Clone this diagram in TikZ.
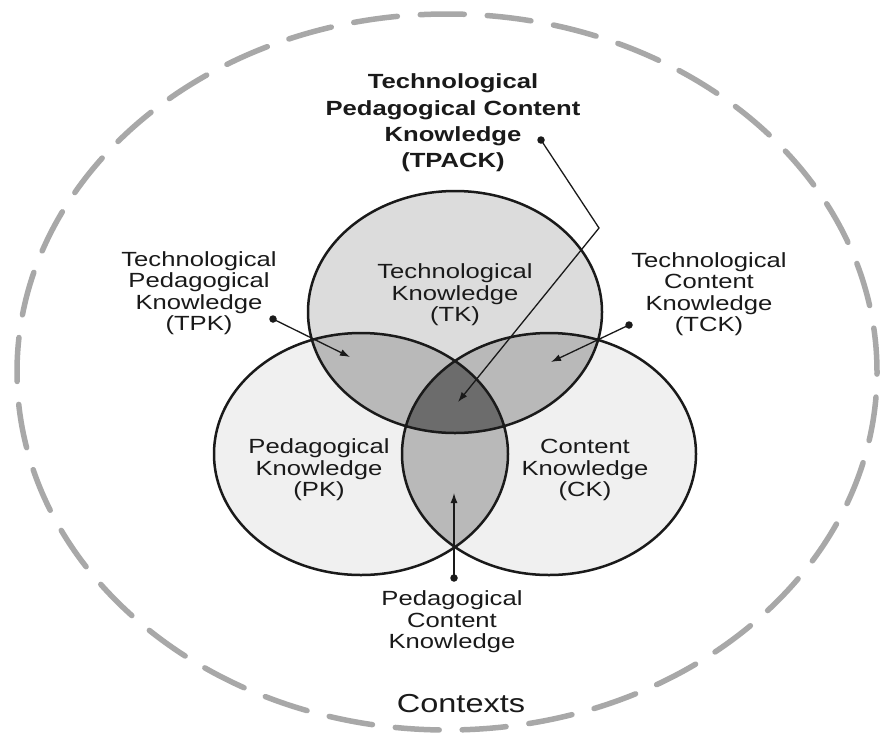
\documentclass[tikz,border=0pt]{standalone}
\usepackage{fontspec}
\setmainfont{Liberation Sans}[FakeStretch=1.25]
\usetikzlibrary{arrows.meta}
\definecolor{tkfill}{HTML}{DCDCDC}
\definecolor{pkfill}{HTML}{F0F0F0}
\definecolor{pairfill}{HTML}{B9B9B9}
\definecolor{triplefill}{HTML}{6C6C6C}
\definecolor{ctxgray}{HTML}{A8A8A8}
\definecolor{edge}{HTML}{1A1A1A}
\begin{document}
\begin{tikzpicture}[x=1pt,y=-1pt,
  lbl/.style={align=center,inner sep=0pt,text=edge,font=\fontsize{20.5}{21.5}\selectfont},
  title/.style={align=center,inner sep=0pt,text=edge,font=\bfseries\fontsize{20.5}{26.3}\selectfont},
  ctxlbl/.style={inner sep=0pt,anchor=base,text=edge,font=\fontsize{26}{30}\selectfont},
  ring/.style={draw=edge,line width=2.5pt},
  context/.style={draw=ctxgray,line width=5.5pt,line cap=round,dash pattern=on 44pt off 23pt},
  conn/.style={draw=edge,line width=1.3pt,-{Latex[length=10pt,width=7pt]}},
  dotnode/.style={circle,fill=edge,inner sep=0pt,minimum size=7.5pt}
]
\useasboundingbox (0,0) rectangle (883,734);
\fill[white] (0,0) rectangle (883,734);

% contexts
\draw[context] (447,372) ellipse [x radius=430pt, y radius=358pt];

\def\TKp{(455,312) ellipse [x radius=147pt, y radius=121pt]}
\def\PKp{(361,454) ellipse [x radius=147pt, y radius=121pt]}
\def\CKp{(549,454) ellipse [x radius=147pt, y radius=121pt]}

% base fills
\fill[pkfill] \PKp;
\fill[pkfill] \CKp;
\fill[tkfill] \TKp;
% pairwise
\begin{scope}\clip \TKp; \fill[pairfill] \PKp; \fill[pairfill] \CKp; \end{scope}
\begin{scope}\clip \PKp; \fill[pairfill] \CKp; \end{scope}
% triple
\begin{scope}\clip \TKp; \clip \PKp; \fill[triplefill] \CKp; \end{scope}
% outlines
\draw[ring] \TKp;
\draw[ring] \PKp;
\draw[ring] \CKp;

% labels
\node[title] (tpack) at (453,123) {Technological\\Pedagogical Content\\Knowledge\\(TPACK)};
\node[lbl] (tpk) at (199,293) {Technological\\Pedagogical\\Knowledge\\(TPK)};
\node[lbl] (tck) at (709,294) {Technological\\Content\\Knowledge\\(TCK)};
\node[lbl] (tk) at (455,295) {Technological\\Knowledge\\(TK)};
\node[lbl] (pk) at (319,470) {Pedagogical\\Knowledge\\(PK)};
\node[lbl] (ck) at (585,470) {Content\\Knowledge\\(CK)};
\node[lbl] (pck) at (452,622) {Pedagogical\\Content\\Knowledge};
\node[ctxlbl] (ctx) at (461,712) {Contexts};

% connectors
\node[dotnode] (d1) at (541,140) {};
\coordinate (b1) at (599,228);
\coordinate (t1) at (458,402);
\draw[conn] (d1.center) -- (b1) -- (t1);

\node[dotnode] (d2) at (273,319) {};
\coordinate (t2) at (350,357);
\draw[conn] (d2.center) -- (t2);

\node[dotnode] (d3) at (629,325) {};
\coordinate (t3) at (551,362);
\draw[conn] (d3.center) -- (t3);

\node[dotnode] (d4) at (454,578) {};
\coordinate (t4) at (454,493);
\draw[conn] (d4.center) -- (t4);
\end{tikzpicture}
\end{document}
